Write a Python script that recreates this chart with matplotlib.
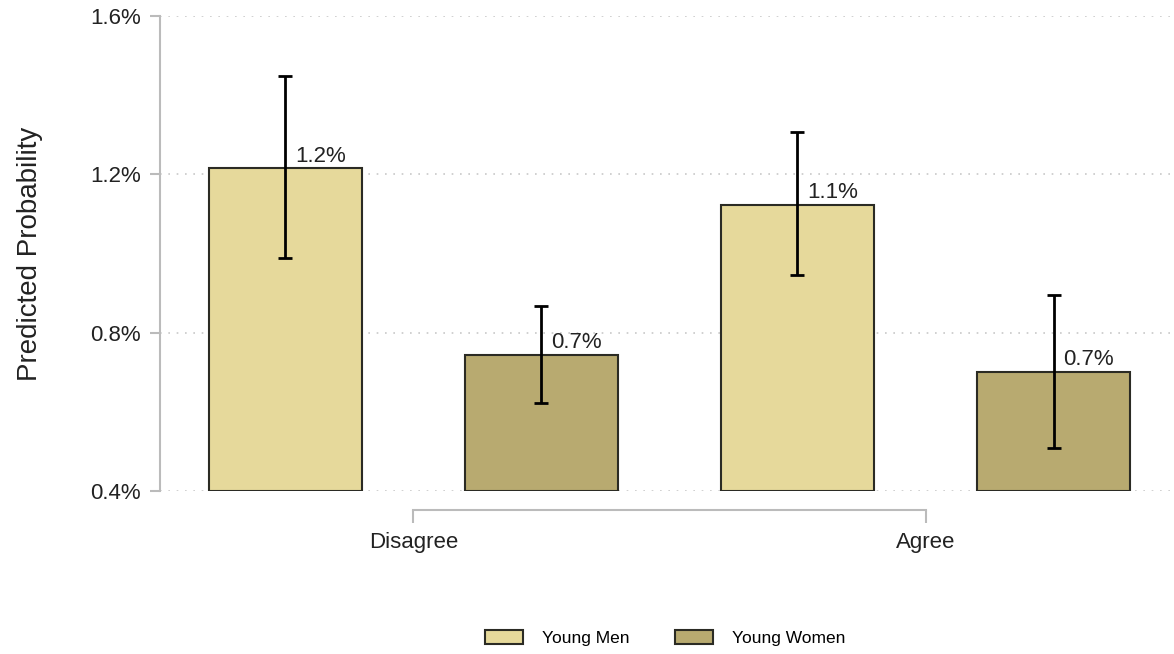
import numpy as np
import matplotlib
matplotlib.use("Agg")
import matplotlib.pyplot as plt

plt.rcParams['font.family'] = ['Liberation Sans', 'DejaVu Sans']

groups = ["Disagree", "Agree"]
series = ["Young Men", "Young Women"]
# predicted probability (%) and 95% CI bounds
men_mean = [1.216, 1.123]
men_lo = [0.989, 0.946]
men_hi = [1.449, 1.307]
women_mean = [0.744, 0.701]
women_lo = [0.622, 0.509]
women_hi = [0.867, 0.895]
yticks = [0.4, 0.8, 1.2, 1.6]

colors = ["#E6D99B", "#B8AA70"]
edge = "#2b2b24"

fig = plt.figure(figsize=(11.74, 6.54), dpi=100)
ax = fig.add_axes([160 / 1174, (654 - 491) / 654, (1170 - 160) / 1174, (491 - 16) / 654])

base = 0.4
width = 0.6
for i, (means, lo, hi) in enumerate([(men_mean, men_lo, men_hi), (women_mean, women_lo, women_hi)]):
    xs = np.arange(len(groups)) * 2 + i
    means = np.array(means)
    ax.bar(xs, means - base, bottom=base, width=width, color=colors[i],
           edgecolor=edge, linewidth=1.5, label=series[i], zorder=2)
    yerr = [means - np.array(lo), np.array(hi) - means]
    ax.errorbar(xs, means, yerr=yerr, fmt="none", ecolor="black",
                elinewidth=2, capsize=5, capthick=2, zorder=3)
    for x, m in zip(xs, means):
        ax.annotate(f"{m:.1f}%", (x, m), xytext=(7, 1), textcoords="offset points",
                    ha="left", va="bottom", fontsize=16, color="#222222", zorder=4)

ax.set_xlim(-0.49, 3.455)
ax.set_ylim(0.4, 1.6)
ax.set_yticks(yticks)
ax.set_yticklabels([f"{t:.1f}%" for t in yticks])
ax.set_xticks([0.5, 2.5])
ax.set_xticklabels(groups)

for s in ["top", "right"]:
    ax.spines[s].set_visible(False)
ax.spines["left"].set_color("#bbbbbb")
ax.spines["left"].set_linewidth(1.5)
ax.spines["bottom"].set_color("#bbbbbb")
ax.spines["bottom"].set_linewidth(1.5)
ax.spines["bottom"].set_position(("outward", 13.5))
ax.spines["bottom"].set_bounds(0.5, 2.5)

ax.tick_params(axis="y", colors="#bbbbbb", width=1.5, length=7, labelsize=16,
               labelcolor="#222222", pad=7)
ax.tick_params(axis="x", colors="#bbbbbb", width=1.5, length=9, labelsize=16,
               labelcolor="#222222", pad=7)

ax.yaxis.grid(True, linestyle=(0, (1, 4)), color="#c8c8c8", linewidth=1.2, zorder=0)
ax.set_axisbelow(True)

ax.set_ylabel("Predicted Probability", fontsize=20, color="#222222", labelpad=34)

ax.legend(loc="center", bbox_to_anchor=(0.5, -0.31), ncol=2, frameon=False,
          fontsize=12.5, handlelength=2.2, handleheight=0.85, handletextpad=1.1,
          columnspacing=2.6)

fig.savefig("out.png", dpi=100)
